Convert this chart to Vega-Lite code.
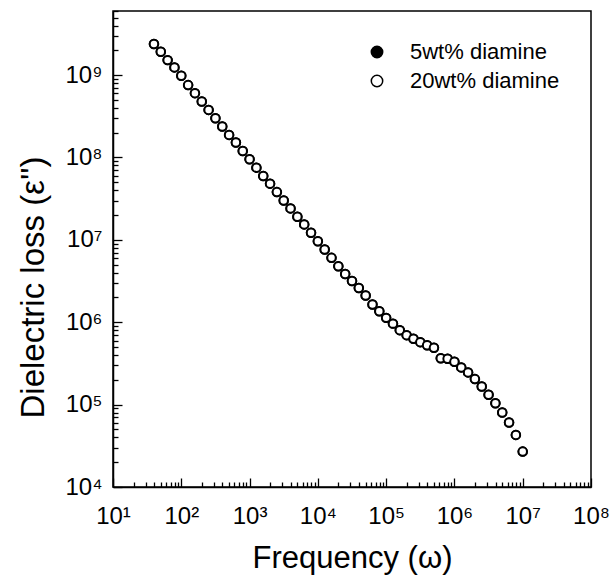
{
  "$schema": "https://vega.github.io/schema/vega-lite/v6.json",
  "width": 478,
  "height": 476,
  "autosize": "none",
  "padding": {"left": 113, "top": 11, "right": 19, "bottom": 94},
  "background": "white",
  "config": {
    "view": {"stroke": "black", "strokeWidth": 1.5},
    "font": "Liberation Sans"
  },
  "datasets": {
    "pts": [
      {"f": 39.8, "eps": 2380000000},
      {"f": 50.1, "eps": 1920000000},
      {"f": 63.1, "eps": 1520000000},
      {"f": 79.4, "eps": 1240000000},
      {"f": 100, "eps": 980000000},
      {"f": 125.9, "eps": 756000000},
      {"f": 158.5, "eps": 604000000},
      {"f": 199.5, "eps": 479000000},
      {"f": 251.2, "eps": 378000000},
      {"f": 316.2, "eps": 300000000},
      {"f": 398.1, "eps": 238000000},
      {"f": 501.2, "eps": 188000000},
      {"f": 631, "eps": 152000000},
      {"f": 794.3, "eps": 120000000},
      {"f": 1000, "eps": 95100000},
      {"f": 1259, "eps": 75300000},
      {"f": 1585, "eps": 59600000},
      {"f": 1995, "eps": 48100000},
      {"f": 2512, "eps": 38000000},
      {"f": 3162, "eps": 30100000},
      {"f": 3981, "eps": 24100000},
      {"f": 5012, "eps": 19100000},
      {"f": 6310, "eps": 15400000},
      {"f": 7943, "eps": 12200000},
      {"f": 10000, "eps": 9640000},
      {"f": 12589, "eps": 7640000},
      {"f": 15849, "eps": 6050000},
      {"f": 19953, "eps": 4790000},
      {"f": 25119, "eps": 3850000},
      {"f": 31623, "eps": 3160000},
      {"f": 39811, "eps": 2600000},
      {"f": 50119, "eps": 2110000},
      {"f": 63096, "eps": 1640000},
      {"f": 79433, "eps": 1360000},
      {"f": 100000, "eps": 1130000},
      {"f": 125893, "eps": 962000},
      {"f": 158489, "eps": 802000},
      {"f": 199526, "eps": 697000},
      {"f": 251189, "eps": 631000},
      {"f": 316228, "eps": 573000},
      {"f": 398107, "eps": 526000},
      {"f": 501187, "eps": 491000},
      {"f": 630957, "eps": 366000},
      {"f": 794328, "eps": 361000},
      {"f": 1000000, "eps": 332000},
      {"f": 1258925, "eps": 283000},
      {"f": 1584893, "eps": 246000},
      {"f": 1995262, "eps": 204000},
      {"f": 2511886, "eps": 166000},
      {"f": 3162278, "eps": 132000},
      {"f": 3981072, "eps": 104000},
      {"f": 5011872, "eps": 80200},
      {"f": 6309573, "eps": 60600},
      {"f": 7943282, "eps": 42900},
      {"f": 10000000, "eps": 26900}
    ]
  },
  "data": {"name": "pts"},
  "transform": [
    {"fold": ["s5", "s20"], "as": ["key", "dummy"]},
    {"calculate": "datum.key == 's5' ? '5wt% diamine' : '20wt% diamine'", "as": "series"}
  ],
  "mark": {"type": "point", "shape": "circle", "filled": false, "stroke": "black", "strokeWidth": 2, "size": 72, "opacity": 1},
  "encoding": {
    "x": {
      "field": "f",
      "type": "quantitative",
      "scale": {"type": "log", "domain": [10, 100000000], "nice": false},
      "axis": {
        "title": "Frequency (ω)",
        "titleFontSize": 31,
        "titleFontWeight": "normal",
        "titleColor": "black",
        "titlePadding": 11,
        "values": [10,20,30,40,50,60,70,80,90,100,200,300,400,500,600,700,800,900,1000,2000,3000,4000,5000,6000,7000,8000,9000,10000,20000,30000,40000,50000,60000,70000,80000,90000,100000,200000,300000,400000,500000,600000,700000,800000,900000,1000000,2000000,3000000,4000000,5000000,6000000,7000000,8000000,9000000,10000000,20000000,30000000,40000000,50000000,60000000,70000000,80000000,90000000,100000000],
        "labelExpr": "abs(log(datum.value)/LN10 - round(log(datum.value)/LN10)) < 0.001 ? '10' + ['⁰','¹','²','³','⁴','⁵','⁶','⁷','⁸','⁹'][round(log(datum.value)/LN10)] : ''",
        "labelFontSize": 24,
        "labelColor": "black",
        "labelPadding": 26,
        "labelFlush": false,
        "labelOverlap": false,
        "tickColor": "black",
        "tickWidth": 1.3,
        "tickSize": {"condition": {"test": "abs(log(datum.value)/LN10 - round(log(datum.value)/LN10)) < 0.001", "value": -9}, "value": -5},
        "domainColor": "black",
        "domainWidth": 1.5,
        "grid": false
      }
    },
    "y": {
      "field": "eps",
      "type": "quantitative",
      "scale": {"type": "log", "domain": [10000, 6000000000], "nice": false},
      "axis": {
        "title": "Dielectric loss (ε'')",
        "titleFontSize": 33,
        "titleFontWeight": "normal",
        "titleColor": "black",
        "titlePadding": 14,
        "titleY": 276,
        "values": [10000,20000,30000,40000,50000,60000,70000,80000,90000,100000,200000,300000,400000,500000,600000,700000,800000,900000,1000000,2000000,3000000,4000000,5000000,6000000,7000000,8000000,9000000,10000000,20000000,30000000,40000000,50000000,60000000,70000000,80000000,90000000,100000000,200000000,300000000,400000000,500000000,600000000,700000000,800000000,900000000,1000000000,2000000000,3000000000,4000000000,5000000000,6000000000],
        "labelExpr": "abs(log(datum.value)/LN10 - round(log(datum.value)/LN10)) < 0.001 ? '10' + ['⁰','¹','²','³','⁴','⁵','⁶','⁷','⁸','⁹'][round(log(datum.value)/LN10)] : ''",
        "labelFontSize": 24,
        "labelColor": "black",
        "labelPadding": 20,
        "labelFlush": false,
        "labelOverlap": false,
        "tickColor": "black",
        "tickWidth": 1.3,
        "tickSize": {"condition": {"test": "abs(log(datum.value)/LN10 - round(log(datum.value)/LN10)) < 0.001", "value": -9}, "value": -5},
        "domainColor": "black",
        "domainWidth": 1.5,
        "grid": false
      }
    },
    "fill": {
      "field": "series",
      "type": "nominal",
      "scale": {"domain": ["5wt% diamine", "20wt% diamine"], "range": ["black", "white"]},
      "legend": {
        "title": null,
        "orient": "none",
        "legendX": 253,
        "legendY": 30,
        "labelFontSize": 22,
        "labelColor": "black",
        "labelOffset": 22,
        "rowPadding": 7,
        "symbolType": "circle",
        "symbolSize": 130,
        "symbolStrokeColor": "black",
        "symbolStrokeWidth": 1.5,
        "symbolOpacity": 1
      }
    },
    "order": {"field": "key", "sort": "descending"}
  }
}
